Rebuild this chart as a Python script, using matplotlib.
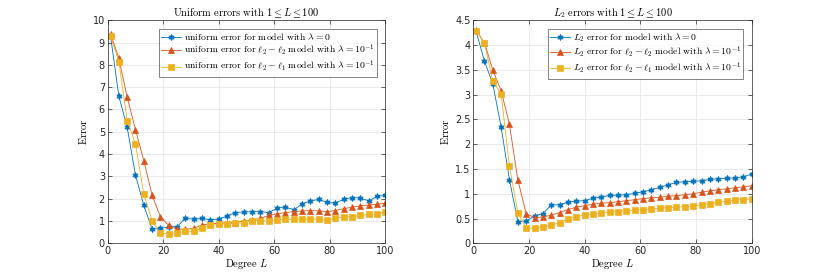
import matplotlib
matplotlib.use("Agg")
import matplotlib.pyplot as plt

plt.rcParams['mathtext.fontset'] = 'cm'
plt.rcParams['font.family'] = ['DejaVu Sans']

degrees = list(range(1, 101, 3))

uni_l0 = [9.3, 6.6, 5.2, 3.05, 1.7, 0.63, 0.67, 0.73, 0.75, 1.12, 1.08, 1.12, 1.05, 1.08,
          1.23, 1.38, 1.4, 1.42, 1.42, 1.38, 1.57, 1.63, 1.5, 1.77, 1.9, 1.97, 1.83, 1.8,
          1.98, 2.05, 2.03, 1.9, 2.1, 2.15]
uni_l22 = [9.4, 8.3, 6.55, 5.1, 3.7, 2.15, 1.18, 0.8, 0.65, 0.62, 0.68, 0.82, 0.88, 0.9,
           0.92, 0.93, 1.0, 1.05, 1.12, 1.25, 1.32, 1.38, 1.42, 1.45, 1.47, 1.45, 1.42, 1.47,
           1.55, 1.62, 1.68, 1.72, 1.75, 1.8]
uni_l21 = [9.3, 8.15, 5.5, 4.45, 2.2, 1.0, 0.45, 0.43, 0.48, 0.53, 0.55, 0.68, 0.8, 0.85,
           0.88, 0.9, 0.92, 1.0, 1.02, 1.0, 1.05, 1.07, 1.08, 1.08, 1.08, 1.08, 1.03, 1.13,
           1.18, 1.2, 1.25, 1.3, 1.33, 1.4]

l2_l0 = [4.28, 3.68, 3.22, 2.35, 1.28, 0.44, 0.45, 0.55, 0.6, 0.77, 0.78, 0.83, 0.85, 0.86,
         0.91, 0.93, 0.97, 0.97, 0.98, 1.01, 1.04, 1.08, 1.13, 1.18, 1.23, 1.24, 1.25, 1.26,
         1.29, 1.3, 1.31, 1.32, 1.34, 1.4]
l2_l22 = [4.3, 4.05, 3.5, 3.08, 2.4, 1.28, 0.6, 0.52, 0.53, 0.57, 0.62, 0.68, 0.73, 0.76,
          0.79, 0.81, 0.82, 0.84, 0.86, 0.88, 0.9, 0.92, 0.93, 0.95, 0.96, 0.98, 1.0, 1.03,
          1.06, 1.08, 1.1, 1.12, 1.14, 1.16]
l2_l21 = [4.28, 4.05, 3.27, 3.02, 1.55, 0.62, 0.3, 0.31, 0.33, 0.37, 0.41, 0.49, 0.54, 0.57,
          0.59, 0.61, 0.63, 0.64, 0.66, 0.67, 0.68, 0.69, 0.71, 0.72, 0.73, 0.74, 0.75, 0.78,
          0.8, 0.83, 0.85, 0.87, 0.88, 0.9]

labels_uni = [r'$\mathrm{uniform\ error\ for\ model\ with\ }\lambda=0$',
              r'$\mathrm{uniform\ error\ for\ }\ell_2-\ell_2\mathrm{\ model\ with\ }\lambda=10^{-1}$',
              r'$\mathrm{uniform\ error\ for\ }\ell_2-\ell_1\mathrm{\ model\ with\ }\lambda=10^{-1}$']
labels_l2 = [r'$L_2\mathrm{\ error\ for\ model\ with\ }\lambda=0$',
             r'$L_2\mathrm{\ error\ for\ }\ell_2-\ell_2\mathrm{\ model\ with\ }\lambda=10^{-1}$',
             r'$L_2\mathrm{\ error\ for\ }\ell_2-\ell_1\mathrm{\ model\ with\ }\lambda=10^{-1}$']

colors = ['#0072BD', '#D95319', '#EDB120']
markers = [(6, 1, 0), '^', 's']
msizes = [4.5, 4.5, 4]

fig = plt.figure(figsize=(8.3, 2.74), dpi=100)
ax1 = fig.add_axes([0.1298, 0.112, 0.3345, 0.814])
ax2 = fig.add_axes([0.5702, 0.112, 0.3354, 0.814])

def draw(ax, series, labels, ymax, yticks, title):
    for s, lab, c, m, ms in zip(series, labels, colors, markers, msizes):
        ax.plot(degrees, s, color=c, lw=0.6, marker=m, ms=ms, mfc=c, mec=c,
                mew=0.5, label=lab)
    ax.set_xlim(0, 100)
    ax.set_ylim(0, ymax)
    ax.set_xticks([0, 20, 40, 60, 80, 100])
    ax.set_yticks(yticks)
    ax.grid(True, color='#e6e6e6', lw=0.6)
    ax.set_axisbelow(True)
    ax.tick_params(direction='in', top=True, right=True, labelsize=7,
                   length=3, width=0.5, colors='#262626', pad=2)
    for sp in ax.spines.values():
        sp.set_linewidth(0.5)
        sp.set_color('#262626')
    ax.set_title(title, fontsize=7.5, pad=3)
    ax.set_xlabel(r'$\mathrm{Degree}\ L$', fontsize=7.5, labelpad=1)
    ax.set_ylabel(r'$\mathrm{Error}$', fontsize=7.5, labelpad=3)
    leg = ax.legend(loc='upper right', bbox_to_anchor=(0.97, 0.962), fontsize=7,
                    frameon=True, fancybox=False, edgecolor='#262626',
                    handlelength=2.0, handletextpad=0.3, borderpad=0.25,
                    labelspacing=0.1, borderaxespad=0)
    leg.get_frame().set_linewidth(0.5)

draw(ax1, [uni_l0, uni_l22, uni_l21], labels_uni, 10, list(range(0, 11)),
     r'$\mathrm{Uniform\ errors\ with\ }1\leq L\leq 100$')
draw(ax2, [l2_l0, l2_l22, l2_l21], labels_l2, 4.5,
     [0, 0.5, 1, 1.5, 2, 2.5, 3, 3.5, 4, 4.5],
     r'$L_2\ \mathrm{errors\ with\ }1\leq L\leq 100$')
ax2.set_yticklabels(['0', '0.5', '1', '1.5', '2', '2.5', '3', '3.5', '4', '4.5'])

fig.savefig('out.png', dpi=100)
